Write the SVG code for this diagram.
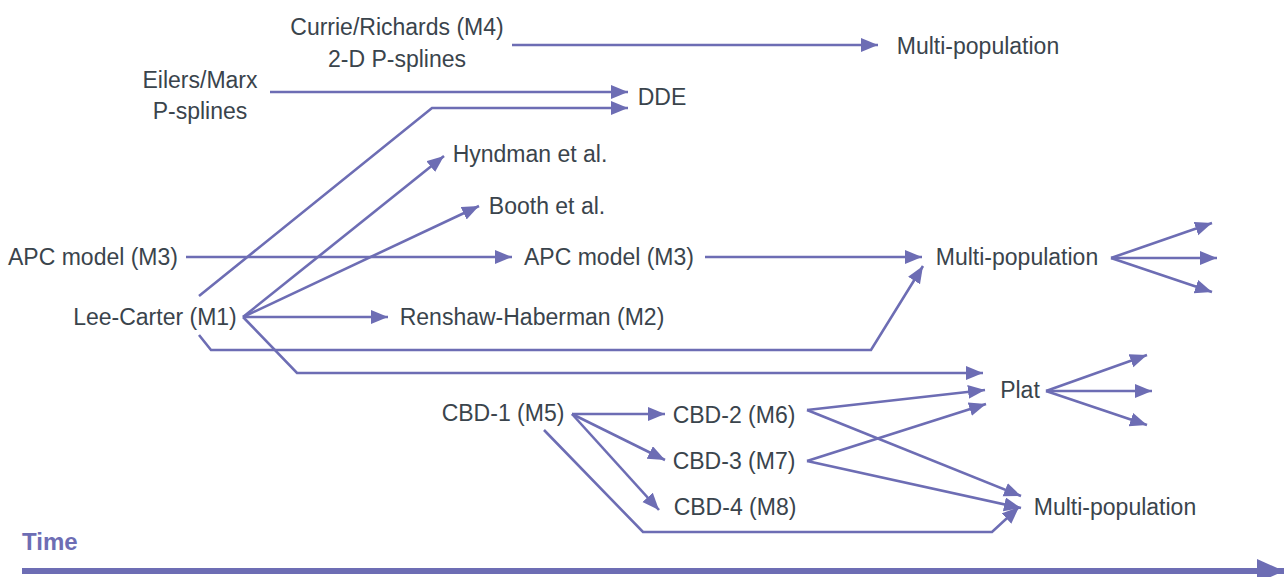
<svg xmlns="http://www.w3.org/2000/svg" width="1285" height="577" viewBox="0 0 1285 577">
<style>
.t{font-family:"Liberation Sans",Arial,sans-serif;font-size:23px;fill:#3a444c;text-anchor:middle}
.c{fill:none;stroke:#6d6db4;stroke-width:2.6;stroke-linejoin:miter}
.a{marker-end:url(#ah)}
</style>
<defs>
<marker id="ah" markerUnits="userSpaceOnUse" markerWidth="20" markerHeight="16" refX="17" refY="7" orient="auto">
<path d="M0,0 L17,7 L0,14 z" fill="#6d6db4"/>
</marker>
<marker id="ahT" markerUnits="userSpaceOnUse" markerWidth="30" markerHeight="26" refX="27" refY="12" orient="auto">
<path d="M0,0 L27,12 L0,24 z" fill="#6d6db4"/>
</marker>
</defs>
<rect width="1285" height="577" fill="#ffffff"/>
<g id="connectors">
<path class="c a" d="M512,45 L878,45"/>
<path class="c a" d="M270,92 L628,92"/>
<path class="c a" d="M199,296 L432,108 L628,108"/>
<path class="c a" d="M243,317 L444,156"/>
<path class="c a" d="M243,317 L479,206"/>
<path class="c a" d="M243,317 L388,317"/>
<path class="c a" d="M186,257 L512,257"/>
<path class="c a" d="M705,257 L922,257"/>
<path class="c a" d="M199,335 L211,350 L871,350 L923,266"/>
<path class="c a" d="M243,317 L297,373 L983,373"/>
<path class="c a" d="M1111,258 L1212,223"/>
<path class="c a" d="M1111,258 L1217,258"/>
<path class="c a" d="M1111,258 L1212,292"/>
<path class="c a" d="M1046,391 L1147,355"/>
<path class="c a" d="M1046,391 L1152,391"/>
<path class="c a" d="M1046,391 L1147,425"/>
<path class="c a" d="M572,414 L665,414"/>
<path class="c a" d="M572,414 L665,460"/>
<path class="c a" d="M572,414 L659,510"/>
<path class="c a" d="M544,430 L643,532 L992,532 L1019,507"/>
<path class="c a" d="M807,410 L985,390"/>
<path class="c a" d="M807,410 L1021,496"/>
<path class="c a" d="M807,461 L986,404"/>
<path class="c a" d="M807,461 L1021,508"/>
<path d="M22,571 L1284,571" fill="none" stroke="#6d6db4" stroke-width="6" marker-end="url(#ahT)"/>
</g>
<g id="n-currie"><text class="t" x="397" y="35">Currie/Richards (M4)</text><text class="t" x="397" y="67">2-D P-splines</text></g>
<g id="n-eilers"><text class="t" x="200" y="88">Eilers/Marx</text><text class="t" x="200" y="119">P-splines</text></g>
<g id="n-dde"><text class="t" x="662" y="105">DDE</text></g>
<g id="n-mp1"><text class="t" x="978" y="54">Multi-population</text></g>
<g id="n-hyndman"><text class="t" x="530" y="162">Hyndman et al.</text></g>
<g id="n-booth"><text class="t" x="547" y="214">Booth et al.</text></g>
<g id="n-apc1"><text class="t" x="93" y="265">APC model (M3)</text></g>
<g id="n-apc2"><text class="t" x="609" y="265">APC model (M3)</text></g>
<g id="n-mp2"><text class="t" x="1017" y="265">Multi-population</text></g>
<g id="n-lc"><text class="t" x="155" y="325">Lee-Carter (M1)</text></g>
<g id="n-rh"><text class="t" x="532" y="325">Renshaw-Haberman (M2)</text></g>
<g id="n-plat"><text class="t" x="1020" y="398">Plat</text></g>
<g id="n-cbd1"><text class="t" x="503" y="421">CBD-1 (M5)</text></g>
<g id="n-cbd2"><text class="t" x="734" y="423">CBD-2 (M6)</text></g>
<g id="n-cbd3"><text class="t" x="734" y="469">CBD-3 (M7)</text></g>
<g id="n-cbd4"><text class="t" x="735" y="515">CBD-4 (M8)</text></g>
<g id="n-mp3"><text class="t" x="1115" y="515">Multi-population</text></g>
<g id="n-time"><text x="22" y="550" font-family="'Liberation Sans',Arial,sans-serif" font-size="24" font-weight="bold" fill="#6d6db4">Time</text></g>
</svg>
